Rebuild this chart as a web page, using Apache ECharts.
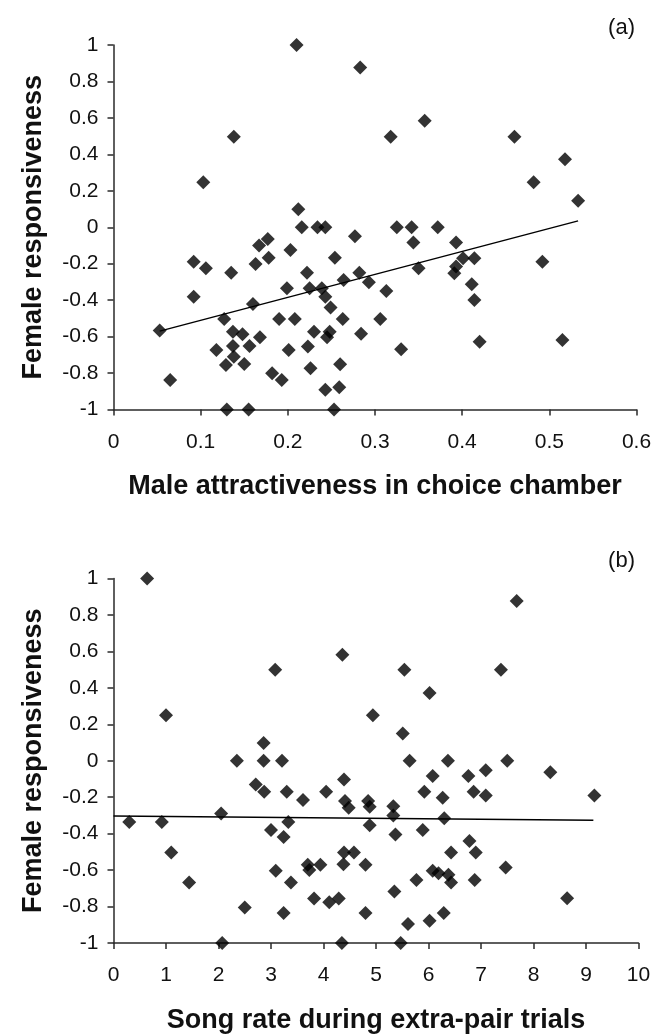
<!DOCTYPE html>
<html><head><meta charset="utf-8">
<script src="https://cdn.jsdelivr.net/npm/echarts@6/dist/echarts.min.js"></script>
<style>html,body{margin:0;padding:0;background:#fff}#c{width:662px;height:1035px}</style>
</head><body><div id="c"></div>
<script>
// Panel (a): male attractiveness in choice chamber vs female responsiveness
const attractX = [0.210,0.283,0.138,0.103,0.212,0.318,0.357,0.460,0.518,0.482,0.533,0.325,0.342,0.372,0.216,0.234,0.243,0.277,0.167,0.177,0.203,0.092,0.106,0.135,0.163,0.178,0.254,0.222,0.282,0.264,0.293,0.199,0.225,0.239,0.243,0.092,0.160,0.249,0.127,0.190,0.208,0.263,0.306,0.053,0.137,0.148,0.168,0.230,0.248,0.245,0.284,0.118,0.137,0.156,0.201,0.223,0.138,0.129,0.150,0.226,0.260,0.182,0.193,0.065,0.243,0.259,0.130,0.155,0.253,0.344,0.393,0.401,0.414,0.393,0.391,0.350,0.492,0.313,0.411,0.414,0.330,0.420,0.515];
const attractY = [1.0,0.876,0.497,0.247,0.099,0.497,0.585,0.497,0.373,0.247,0.146,0,0,0,0,0,0,-0.05,-0.10,-0.064,-0.125,-0.189,-0.225,-0.249,-0.201,-0.167,-0.167,-0.249,-0.249,-0.289,-0.302,-0.335,-0.335,-0.335,-0.381,-0.381,-0.421,-0.441,-0.503,-0.503,-0.503,-0.503,-0.503,-0.567,-0.573,-0.587,-0.604,-0.573,-0.573,-0.604,-0.585,-0.673,-0.651,-0.651,-0.673,-0.655,-0.710,-0.756,-0.750,-0.774,-0.752,-0.801,-0.838,-0.838,-0.892,-0.878,-1,-1,-1,-0.084,-0.084,-0.170,-0.170,-0.216,-0.253,-0.225,-0.189,-0.350,-0.313,-0.399,-0.670,-0.628,-0.619];
const trendAX = [0.053, 0.533];
const trendAY = [-0.570, 0.035];

// Panel (b): song rate during extra-pair trials vs female responsiveness
const songX = [0.64,1.0,3.08,4.36,4.94,7.68,5.54,7.38,6.02,5.51,2.86,2.35,2.86,3.21,2.71,2.87,3.30,3.61,4.05,4.39,4.41,4.48,4.85,4.88,2.05,0.30,0.92,3.33,4.88,3.00,3.24,1.10,4.39,4.58,3.70,3.73,3.94,4.38,4.80,3.09,1.44,3.38,3.82,4.11,4.29,2.50,3.24,4.80,2.07,4.35,5.64,6.37,7.50,6.08,6.76,7.09,8.32,5.92,6.27,6.86,7.09,9.16,5.33,5.33,6.30,5.37,5.89,6.78,6.43,6.90,7.47,6.08,6.19,6.38,6.43,5.77,6.88,5.35,8.64,5.61,6.02,6.29,5.47];
const songY = [1.0,0.249,0.499,0.581,0.249,0.877,0.499,0.499,0.372,0.15,0.098,0,0,0,-0.130,-0.170,-0.170,-0.216,-0.170,-0.103,-0.221,-0.258,-0.221,-0.252,-0.289,-0.336,-0.336,-0.336,-0.354,-0.380,-0.418,-0.504,-0.504,-0.504,-0.571,-0.600,-0.571,-0.568,-0.571,-0.604,-0.668,-0.668,-0.756,-0.777,-0.756,-0.805,-0.836,-0.836,-1,-1,0,0,0,-0.084,-0.084,-0.052,-0.063,-0.170,-0.203,-0.170,-0.190,-0.190,-0.249,-0.300,-0.316,-0.404,-0.380,-0.440,-0.504,-0.504,-0.586,-0.604,-0.617,-0.626,-0.668,-0.655,-0.655,-0.717,-0.754,-0.896,-0.878,-0.836,-1];
const trendBX = [0.0, 9.14];
const trendBY = [-0.303, -0.327];

const yTitle = 'Female responsiveness';
const xTitleA = 'Male attractiveness in choice chamber';
const xTitleB = 'Song rate during extra-pair trials';
const panelLabels = ['(a)', '(b)'];

const zip = (xs, ys) => xs.map((x, i) => [x, ys[i]]);
const FONT = '"Liberation Sans", Arial, Helvetica, sans-serif';
const axisLineStyle = { color: '#2a2a2a', width: 1.5 };

function xAxis(gi, min, max, interval, name) {
  return {
    gridIndex: gi, type: 'value', min, max, interval,
    name, nameLocation: 'middle', nameGap: 64,
    nameTextStyle: { fontFamily: FONT, fontSize: 27, fontWeight: 'bold', color: '#111' },
    axisLine: { show: true, onZero: false, lineStyle: axisLineStyle },
    axisTick: { show: true, inside: false, length: 6, lineStyle: axisLineStyle },
    axisLabel: { fontFamily: FONT, fontSize: 21, color: '#111', margin: 22 },
    splitLine: { show: false }
  };
}
function yAxis(gi) {
  return {
    gridIndex: gi, type: 'value', min: -1, max: 1, interval: 0.2,
    name: yTitle, nameLocation: 'middle', nameGap: 66,
    nameTextStyle: { fontFamily: FONT, fontSize: 27, fontWeight: 'bold', color: '#111' },
    axisLine: { show: true, onZero: false, lineStyle: axisLineStyle },
    axisTick: { show: true, inside: false, length: 6, lineStyle: axisLineStyle },
    axisLabel: { fontFamily: FONT, fontSize: 21, color: '#111', margin: 15 },
    splitLine: { show: false }
  };
}
const scatter = (i, data) => ({
  type: 'scatter', xAxisIndex: i, yAxisIndex: i, data,
  symbol: 'diamond', symbolSize: 14,
  itemStyle: { color: '#000' }, silent: true, z: 3
});
const trend = (i, data) => ({
  type: 'line', xAxisIndex: i, yAxisIndex: i, data,
  symbol: 'none', lineStyle: { color: '#000', width: 1.5 }, silent: true, z: 4
});

const chart = echarts.init(document.getElementById('c'), null, { renderer: 'canvas' });
chart.setOption({
  backgroundColor: '#fff',
  animation: false,
  title: [
    { text: panelLabels[0], right: 27, top: 17, padding: 0, textStyle: { fontFamily: FONT, fontSize: 22, fontWeight: 'normal', color: '#111' } },
    { text: panelLabels[1], right: 27, top: 550, padding: 0, textStyle: { fontFamily: FONT, fontSize: 22, fontWeight: 'normal', color: '#111' } }
  ],
  grid: [
    { left: 113.5, top: 45, width: 523, height: 364.5 },
    { left: 113.5, top: 578.5, width: 525, height: 366 }
  ],
  xAxis: [xAxis(0, 0, 0.6, 0.1, xTitleA), xAxis(1, 0, 10, 1, xTitleB)],
  yAxis: [yAxis(0), yAxis(1)],
  series: [
    scatter(0, zip(attractX, attractY)),
    trend(0, zip(trendAX, trendAY)),
    scatter(1, zip(songX, songY)),
    trend(1, zip(trendBX, trendBY))
  ]
});
</script></body></html>
